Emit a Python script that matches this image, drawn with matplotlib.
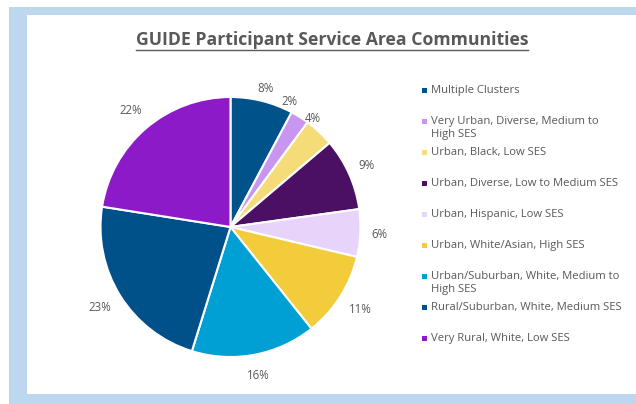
import numpy as np
import matplotlib.pyplot as plt
from matplotlib.patches import Rectangle

# shares, labels as printed on the chart
categories = [
    'Multiple Clusters',
    'Very Urban, Diverse, Medium to\nHigh SES',
    'Urban, Black, Low SES',
    'Urban, Diverse, Low to Medium SES',
    'Urban, Hispanic, Low SES',
    'Urban, White/Asian, High SES',
    'Urban/Suburban, White, Medium to\nHigh SES',
    'Rural/Suburban, White, Medium SES',
    'Very Rural, White, Low SES',
]
shares = [7.8, 2.3, 3.7, 9.0, 5.9, 10.6, 15.5, 22.7, 22.5]
pct_labels = ['8%', '2%', '4%', '9%', '6%', '11%', '16%', '23%', '22%']
colors = ['#00538A', '#C896F0', '#F5DC78', '#4B0F64', '#E8D4FA',
          '#F2CC3A', '#009FD4', '#00508A', '#8C1AC8']

# label placement tweaks (Excel nudges the small top slices' labels upward)
lab_shift = [0, 7, 6, 0, 0, 0, 0, 0, 0]         # degrees, counter-clockwise
lab_rad = [1.10, 1.07, 1.05, 1.15, 1.15, 1.18, 1.16, 1.18, 1.18]

plt.rcParams['font.family'] = ['Open Sans', 'DejaVu Sans']
W, H = 636, 404
fig = plt.figure(figsize=(W / 100, H / 100), dpi=100)
fig.patch.set_facecolor('white')

# light blue frame + white panel (behind everything)
fig.patches.append(Rectangle((9 / W, 0), 1, 1 - 7 / H, transform=fig.transFigure,
                             facecolor='#BDD7EE', edgecolor='none', zorder=-2))
fig.patches.append(Rectangle((27 / W, 10 / H), 1, 1 - 25 / H, transform=fig.transFigure,
                             facecolor='white', edgecolor='none', zorder=-1))

title = fig.text(332 / W, 1 - 40 / H, 'GUIDE Participant Service Area Communities',
                 ha='center', va='center', fontsize=12.7, fontweight='bold',
                 color='#595959')

# pie axes: center (230.5, 227) px, radius 130 px
L = 1.3
side = 2 * 130 * L
cx, cy = 230.5, 227
ax = fig.add_axes([(cx - side / 2) / W, (H - cy - side / 2) / H, side / W, side / H])
wedges, texts = ax.pie(shares, colors=colors, startangle=90, counterclock=False,
                       labels=pct_labels,
                       textprops=dict(fontsize=8.3, color='#595959'),
                       wedgeprops=dict(edgecolor='white', linewidth=1.5))
for w, t, sh, r in zip(wedges, texts, lab_shift, lab_rad):
    mid = np.deg2rad((w.theta1 + w.theta2) / 2 + sh)
    t.set_position((r * np.cos(mid), r * np.sin(mid)))
    t.set_ha('center')
    t.set_va('center')
ax.set_xlim(-L, L)
ax.set_ylim(-L, L)
ax.set_aspect('equal')

# legend drawn by hand to keep the uneven row layout
row_y = 90
for name, col in zip(categories, colors):
    fig.patches.append(Rectangle((421.5 / W, 1 - (row_y + 2.5) / H), 5 / W, 5 / H,
                                 transform=fig.transFigure, facecolor=col,
                                 edgecolor='none'))
    fig.text(431 / W, 1 - (row_y - 5) / H, name, ha='left', va='top',
             fontsize=8.1, color='#595959', linespacing=1.3)
    row_y += 31

# underline the title across its own width
fig.canvas.draw()
bb = title.get_window_extent().transformed(fig.transFigure.inverted())
fig.add_artist(plt.Line2D([bb.x0, bb.x1], [1 - 50 / H, 1 - 50 / H],
                          color='#595959', lw=1.0))

fig.savefig('out.png', dpi=100)
